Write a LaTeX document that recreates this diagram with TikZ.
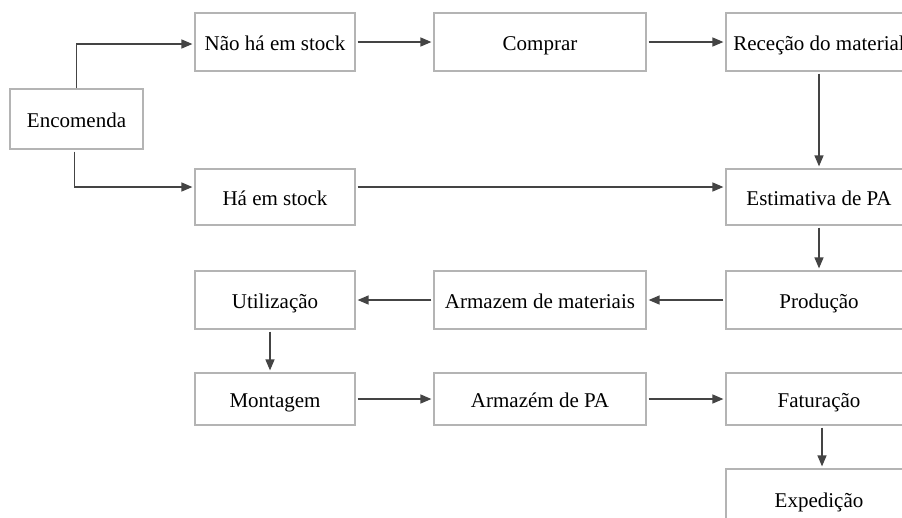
\documentclass[tikz,border=0pt]{standalone}
\usepackage{fontspec}
\setmainfont{Liberation Serif}
\usetikzlibrary{arrows.meta}
\definecolor{boxgray}{HTML}{B4B4B4}
\definecolor{arrgray}{HTML}{444444}
\begin{document}
\begin{tikzpicture}[x=1pt,y=-1pt,
  procbox/.style={draw=boxgray, line width=1.2pt, fill=white, inner sep=0pt,
    minimum width=#1, text height=20pt, text depth=4pt,
    font=\fontsize{21}{25}\selectfont},
  procbox/.default=160pt,
  flow/.style={draw=arrgray, line width=1.4pt, shorten >=2pt, shorten <=2pt,
    -{Triangle[length=11pt,width=9pt]}}]
\useasboundingbox (0,0) rectangle (902,517);
\clip (0,0) rectangle (902,517);
% row 1
\node[procbox=133pt, minimum height=60pt] (enc) at (76.5,119) {Encomenda};
\node[procbox=160pt, minimum height=58pt] (nao) at (275,42) {Não há em stock};
\node[procbox=212pt, minimum height=58pt] (comp) at (540,42) {Comprar};
\node[procbox=186pt, minimum height=58pt] (rec) at (819,42) {Receção do material};
% row 2
\node[procbox=160pt, minimum height=56pt] (ha) at (275,197) {Há em stock};
\node[procbox=186pt, minimum height=56pt] (est) at (819,197) {Estimativa de PA};
% row 3
\node[procbox=160pt, minimum height=58pt] (uti) at (275,300) {Utilização};
\node[procbox=212pt, minimum height=58pt] (arm) at (540,300) {Armazem de materiais};
\node[procbox=186pt, minimum height=58pt] (prod) at (819,300) {Produção};
% row 4
\node[procbox=160pt, minimum height=52pt] (mon) at (275,399) {Montagem};
\node[procbox=212pt, minimum height=52pt] (armpa) at (540,399) {Armazém de PA};
\node[procbox=186pt, minimum height=52pt] (fat) at (819,399) {Faturação};
% row 5
\node[procbox=186pt, minimum height=60pt] (exp) at (819,499) {Expedição};
% connectors
\draw[flow, shorten <=0pt] (enc.north) |- ([yshift=-2pt]nao.west);
\draw[flow] ([xshift=-2pt]enc.south) |- ([yshift=10pt]ha.west);
\draw[flow] (nao) -- (comp);
\draw[flow] (comp) -- (rec);
\draw[flow] (rec) -- (est);
\draw[flow] ([yshift=10pt]ha.east) -- ([yshift=10pt]est.west);
\draw[flow] (est) -- (prod);
\draw[flow] (prod) -- (arm);
\draw[flow] (arm) -- (uti);
\draw[flow] ([xshift=-5pt]uti.south) -- ([xshift=-5pt]mon.north);
\draw[flow] (mon) -- (armpa);
\draw[flow] (armpa) -- (fat);
\draw[flow] ([xshift=3pt]fat.south) -- ([xshift=3pt]exp.north);
\end{tikzpicture}
\end{document}
